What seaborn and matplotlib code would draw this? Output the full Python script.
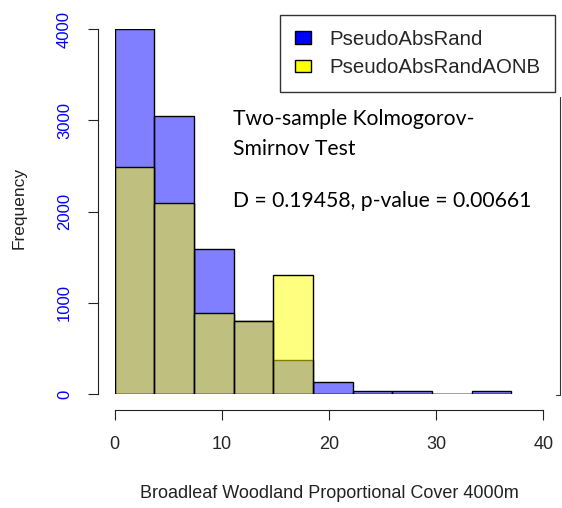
import numpy as np
import pandas as pd
import matplotlib
matplotlib.use("Agg")
import matplotlib.pyplot as plt
from matplotlib.patches import Patch
from matplotlib.lines import Line2D
import seaborn as sns

# histogram bins (width 3.7) and counts
bin_edges = [0, 3.7, 7.4, 11.1, 14.8, 18.5, 22.2, 25.9, 29.6, 33.3, 37.0]
rand_counts = [4000, 3050, 1590, 800, 375, 130, 30, 30, 0, 30]
aonb_counts = [2490, 2095, 890, 800, 1300, 0, 0, 0, 0, 0]
series_names = ["PseudoAbsRand", "PseudoAbsRandAONB"]
series_colors = ["blue", "yellow"]
x_ticks = [0, 10, 20, 30, 40]
y_ticks = [0, 1000, 2000, 3000, 4000]
ks_lines = ["Two-sample Kolmogorov-", "Smirnov Test",
            "D = 0.19458, p-value = 0.00661"]

W, H = 562, 508

sns.set_style("ticks")
plt.rcParams["font.family"] = ["Liberation Sans", "DejaVu Sans"]

fig = plt.figure(figsize=(W / 100, H / 100), dpi=100)
ax = fig.add_axes([114.7 / W, 1 - 394 / H, 428.6 / W, 364.7 / H])

edges = np.array(bin_edges)
centers = (edges[:-1] + edges[1:]) / 2
for counts, col in zip([rand_counts, aonb_counts], series_colors):
    df = pd.DataFrame({"cover": centers, "n": counts})
    sns.histplot(data=df, x="cover", weights="n", bins=bin_edges, color=col,
                 alpha=0.5, edgecolor="black", linewidth=1.0, ax=ax)

ax.set_xlim(0, 40)
ax.set_ylim(0, 4000)

# R-style detached axes
for s in ["top", "right"]:
    ax.spines[s].set_visible(False)
ax.spines["left"].set_position(("outward", 12.2))
ax.spines["bottom"].set_position(("outward", 11.5))
ax.spines["left"].set_bounds(0, 4000)
ax.spines["bottom"].set_bounds(0, 40)
for s in ["left", "bottom"]:
    ax.spines[s].set_linewidth(0.8)
    ax.spines[s].set_color("#222222")

ax.set_xticks(x_ticks, labels=[str(v) for v in x_ticks], fontsize=13)
ax.set_yticks(y_ticks, labels=[str(v) for v in y_ticks], rotation=90,
              va="center", color="blue", fontsize=12,
              family=["Liberation Sans Narrow", "Liberation Sans"])
ax.tick_params(axis="both", length=7.5, width=0.8, color="#222222")
ax.tick_params(axis="x", pad=11)
ax.tick_params(axis="y", pad=11)

ax.set_xlabel("Broadleaf Woodland Proportional Cover 4000m", fontsize=13,
              color="#222222")
ax.xaxis.label.set_va("baseline")
ax.xaxis.set_label_coords(0.5, (394 - 498) / 364.7)
ax.set_ylabel("Frequency", fontsize=12.5, color="#222222")
ax.yaxis.label.set_va("center")
ax.yaxis.set_label_coords((19 - 114.7) / 428.6, (394 - 207.5) / 364.7)

handles = [Patch(facecolor=c, edgecolor="black", linewidth=1.0) for c in series_colors]
ax.legend(handles, series_names, loc="upper left",
          bbox_to_anchor=(280 / W, 1 - 15 / H), bbox_transform=fig.transFigure,
          frameon=True, fancybox=False, edgecolor="#333333", framealpha=1,
          borderaxespad=0, fontsize=14.7, handlelength=0.8, handleheight=0.55,
          handletextpad=0.9, labelspacing=0.45, borderpad=0.72)
ax.get_legend().get_frame().set_linewidth(1.0)

# KS test annotation
for txt, base in zip(ks_lines, [125, 155, 207]):
    fig.text(233 / W, 1 - base / H, txt, fontsize=15.2, va="baseline",
             ha="left", family=["Lato", "DejaVu Sans"], color="black")

# edge of a neighbouring panel, cut off on the right
fig.add_artist(Line2D([560 / W, 560 / W], [1 - 97 / H, 1 - 395 / H],
                      transform=fig.transFigure, color="#333333", lw=0.8))
fig.add_artist(Line2D([556 / W, 560 / W], [1 - 395 / H, 1 - 395 / H],
                      transform=fig.transFigure, color="#333333", lw=0.8))

fig.savefig("out.png", dpi=100)
